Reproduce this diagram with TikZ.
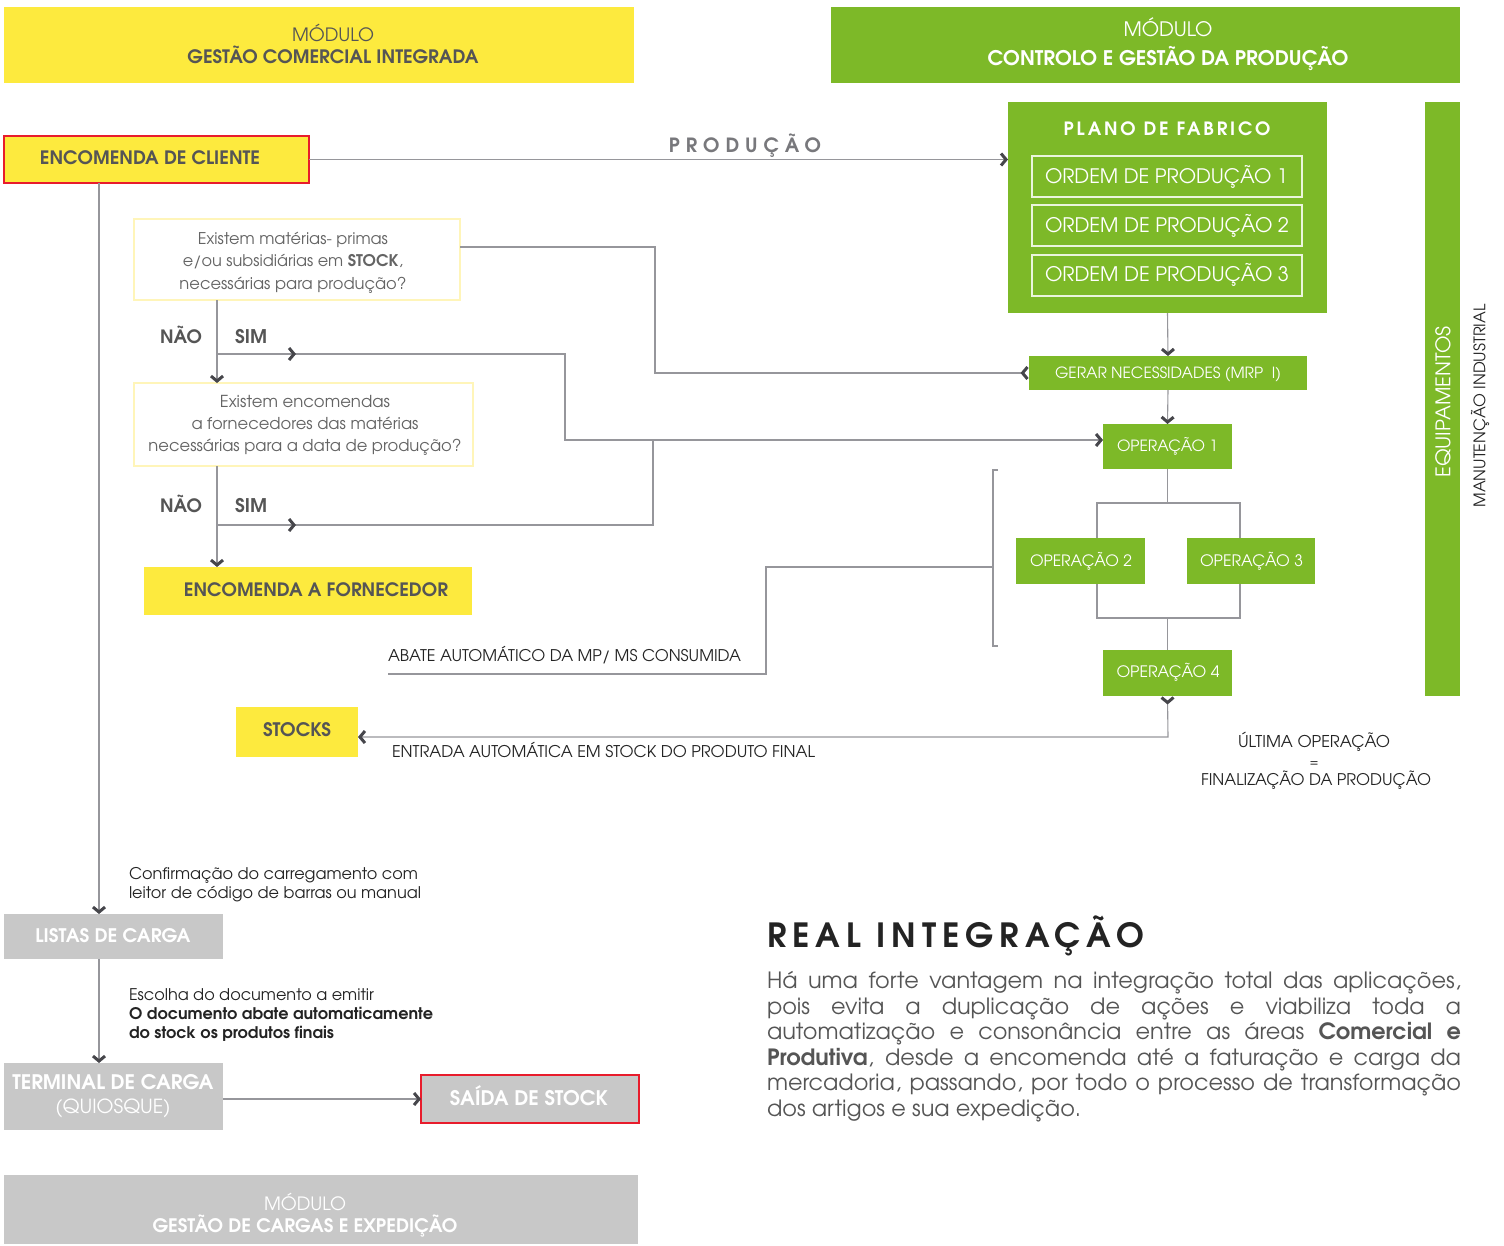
\documentclass[tikz,border=0pt]{standalone}
\usepackage{fontspec}
\setmainfont{TeX Gyre Adventor}
\usepackage{graphicx}
\usetikzlibrary{arrows.meta,decorations.markings}
\definecolor{myyellow}{RGB}{253,234,62}
\definecolor{mygreen}{RGB}{125,185,40}
\definecolor{mygrey}{RGB}{200,200,200}
\definecolor{myred}{RGB}{232,28,44}
\definecolor{txt}{RGB}{85,85,85}
\definecolor{qtxt}{RGB}{100,100,100}
\definecolor{dark}{RGB}{35,35,35}
\definecolor{linec}{RGB}{150,150,155}
\definecolor{tipc}{RGB}{70,70,75}
\definecolor{qborder}{RGB}{255,245,185}
\definecolor{ordc}{RGB}{235,245,220}
\newcommand\fw[2]{\resizebox{#1}{!}{#2}}
\tikzset{
  chev/.tip={Straight Barb[length=5pt, width=12pt, line width=3pt, color=tipc]},
  chevr/.tip={Straight Barb[reversed, length=5pt, width=12pt, line width=3pt, color=tipc]},
}
\begin{document}
\begin{tikzpicture}[x=1pt,y=-1pt,
  box/.style={anchor=north west, inner sep=0pt, outer sep=0pt},
  ybox/.style={box, fill=myyellow},
  gbox/.style={box, fill=mygreen},
  grbox/.style={box, fill=mygrey},
  redframe/.style={draw=myred, line width=1.3pt},
  ordbox/.style={box, draw=ordc, line width=1.5pt},
  qbox/.style={box, draw=qborder, line width=2.5pt, fill=white},
  lbl/.style={inner sep=0pt, outer sep=0pt, anchor=base},
  lblw/.style={lbl, anchor=base west},
  wire/.style={draw=linec, line width=1.1pt},
  conn/.style={wire, -chev},
  midarrow/.style={postaction={decorate, decoration={markings, mark=at position 79pt with {\arrow{chev}}}}},
]
\useasboundingbox (0,0) rectangle (1504,1245);

% ---------- module headers ----------
\node[ybox, minimum width=630pt, minimum height=76pt] (hdrA) at (4,7) {};
\node[lbl, text=txt] (hdrAa) at (333,41) {\fw{82pt}{MÓDULO}};
\node[lbl, text=txt] (hdrAb) at (333,63) {\fw{291pt}{\bfseries GESTÃO COMERCIAL INTEGRADA}};

\node[gbox, minimum width=629pt, minimum height=76pt] (hdrB) at (831,7) {};
\node[lbl, text=white] (hdrBa) at (1168,36) {\fw{89pt}{MÓDULO}};
\node[lbl, text=white] (hdrBb) at (1168,65) {\fw{361pt}{\bfseries CONTROLO E GESTÃO DA PRODUÇÃO}};

\node[grbox, minimum width=634pt, minimum height=69pt] (hdrC) at (4,1175) {};
\node[lbl, text=white] (hdrCa) at (305,1210) {\fw{82pt}{MÓDULO}};
\node[lbl, text=white] (hdrCb) at (305,1232) {\fw{305pt}{\bfseries GESTÃO DE CARGAS E EXPEDIÇÃO}};

% ---------- commercial flow ----------
\node[ybox, redframe, minimum width=305pt, minimum height=47pt] (encC) at (4,136) {};
\node[lbl, text=txt] (encCt) at (150,164) {\fw{220pt}{\bfseries ENCOMENDA DE CLIENTE}};

\node[qbox, minimum width=326pt, minimum height=81pt] (q1) at (134,219) {};
\node[lbl, text=qtxt] (q1a) at (293,244) {\fw{190pt}{Existem matérias- primas}};
\node[lbl, text=qtxt] (q1b) at (293,266) {\fw{220pt}{e/ou subsidiárias em \textbf{STOCK},}};
\node[lbl, text=qtxt] (q1c) at (293,289) {\fw{227pt}{necessárias para produção?}};

\node[lbl, text=txt] (nao1) at (181,343) {\fw{42pt}{\bfseries NÃO}};
\node[lbl, text=txt] (sim1) at (251,343) {\fw{32pt}{\bfseries SIM}};

\node[qbox, minimum width=339pt, minimum height=83pt] (q2) at (134,383) {};
\node[lbl, text=qtxt] (q2a) at (305,407) {\fw{170pt}{Existem encomendas}};
\node[lbl, text=qtxt] (q2b) at (305,429) {\fw{227pt}{a fornecedores das matérias}};
\node[lbl, text=qtxt] (q2c) at (305,451) {\fw{313pt}{necessárias para a data de produção?}};

\node[lbl, text=txt] (nao2) at (181,512) {\fw{42pt}{\bfseries NÃO}};
\node[lbl, text=txt] (sim2) at (251,512) {\fw{32pt}{\bfseries SIM}};

\node[ybox, minimum width=328pt, minimum height=48pt] (encF) at (144,567) {};
\node[lbl, text=txt] (encFt) at (316,596) {\fw{264pt}{\bfseries ENCOMENDA A FORNECEDOR}};

\node[ybox, minimum width=122pt, minimum height=50pt] (stocks) at (236,707) {};
\node[lbl, text=txt] (stockst) at (297,736) {\fw{68pt}{\bfseries STOCKS}};

\node[lblw, text=dark] (abate) at (388,661) {\fw{353pt}{ABATE AUTOMÁTICO DA MP/ MS CONSUMIDA}};
\node[lblw, text=dark] (entrada) at (392,757) {\fw{423pt}{ENTRADA AUTOMÁTICA EM STOCK DO PRODUTO FINAL}};

% ---------- production ----------
\node[lbl, text=linec!80!black] (prodlbl) at (745,152) {\fw{152pt}{\bfseries\addfontfeatures{LetterSpace=30}PRODUÇÃO}};

\node[gbox, minimum width=319pt, minimum height=211pt] (plano) at (1008,102) {};
\node[lbl, text=white] (planot) at (1167,135) {\fw{207pt}{\bfseries\addfontfeatures{LetterSpace=15}PLANO DE FABRICO}};
\node[ordbox, minimum width=270pt, minimum height=41pt] (ord1) at (1032,156) {};
\node[ordbox, minimum width=270pt, minimum height=41pt] (ord2) at (1032,205) {};
\node[ordbox, minimum width=270pt, minimum height=41pt] (ord3) at (1032,255) {};
\node[lblw, text=white] (ord1t) at (1045,183) {\fw{243pt}{ORDEM DE PRODUÇÃO 1}};
\node[lblw, text=white] (ord2t) at (1045,232) {\fw{244pt}{ORDEM DE PRODUÇÃO 2}};
\node[lblw, text=white] (ord3t) at (1045,281) {\fw{244pt}{ORDEM DE PRODUÇÃO 3}};

\node[gbox, minimum width=278pt, minimum height=34pt] (gerar) at (1029,356) {};
\node[lbl, text=white] (gerart) at (1168,378) {\fw{226pt}{GERAR NECESSIDADES (MRP\ \ I)}};

\node[gbox, minimum width=129pt, minimum height=45pt] (op1) at (1103,424) {};
\node[lbl, text=white] (op1t) at (1167.5,451) {\fw{101pt}{OPERAÇÃO 1}};
\node[gbox, minimum width=129pt, minimum height=46pt] (op2) at (1016,538) {};
\node[lbl, text=white] (op2t) at (1081,566) {\fw{102pt}{OPERAÇÃO 2}};
\node[gbox, minimum width=128pt, minimum height=46pt] (op3) at (1187,538) {};
\node[lbl, text=white] (op3t) at (1251.5,566) {\fw{103pt}{OPERAÇÃO 3}};
\node[gbox, minimum width=129pt, minimum height=46pt] (op4) at (1103,650) {};
\node[lbl, text=white] (op4t) at (1168,677) {\fw{103pt}{OPERAÇÃO 4}};

\node[gbox, minimum width=35pt, minimum height=594pt] (equip) at (1425,102) {};
\node[rotate=90, inner sep=0pt, text=white] (equipt) at (1443,402) {\fw{151pt}{EQUIPAMENTOS}};
\node[rotate=90, inner sep=0pt, text=dark] (manut) at (1480,406) {\fw{203pt}{MANUTENÇÃO INDUSTRIAL}};

\node[lbl, text=dark] (ult1) at (1314,747) {\fw{152pt}{ÚLTIMA OPERAÇÃO}};
\node[lbl, text=dark] (ult2) at (1314,766) {\fw{9pt}{=}};
\node[lbl, text=dark] (ult3) at (1316,785) {\fw{230pt}{FINALIZAÇÃO DA PRODUÇÃO}};

% ---------- expedition ----------
\node[lblw, text=dark] (conf1) at (129,879) {\fw{289pt}{Confirmação do carregamento com}};
\node[lblw, text=dark] (conf2) at (129,898) {\fw{292pt}{leitor de código de barras ou manual}};

\node[grbox, minimum width=219pt, minimum height=45pt] (listas) at (4,914) {};
\node[lbl, text=white] (listast) at (113,942) {\fw{155pt}{\bfseries LISTAS DE CARGA}};

\node[lblw, text=dark] (esc1) at (129,1000) {\fw{245pt}{Escolha do documento a emitir}};
\node[lblw, text=dark] (esc2) at (129,1019) {\fw{304pt}{\bfseries O documento abate automaticamente}};
\node[lblw, text=dark] (esc3) at (129,1038) {\fw{205pt}{\bfseries do stock os produtos finais}};

\node[grbox, minimum width=219pt, minimum height=67pt] (term) at (4,1063) {};
\node[lbl, text=white] (termt1) at (113,1089) {\fw{201pt}{\bfseries TERMINAL DE CARGA}};
\node[lbl, text=white] (termt2) at (113,1113) {\fw{115pt}{(QUIOSQUE)}};

\node[grbox, redframe, minimum width=218pt, minimum height=48pt] (saida) at (421,1075) {};
\node[lbl, text=white] (saidat) at (529,1105) {\fw{158pt}{\bfseries SAÍDA DE STOCK}};

% ---------- text block ----------
\node[lblw, text=dark] (realt) at (767,947) {\fw{377pt}{\bfseries\addfontfeatures{LetterSpace=18}REAL INTEGRAÇÃO}};
\begin{scope}[every node/.style={lblw, text=txt, font=\fontsize{22.4}{26}\selectfont}]
\node (p1) at (767,988) {\makebox[694pt][s]{Há uma forte vantagem na integração total das aplicações,}};
\node (p2) at (767,1014) {\makebox[694pt][s]{pois evita a duplicação de ações e viabiliza toda a}};
\node (p3) at (767,1039) {\makebox[694pt][s]{automatização e consonância entre as áreas \textbf{Comercial e}}};
\node (p4) at (767,1065) {\makebox[694pt][s]{\textbf{Produtiva}, desde a encomenda até a faturação e carga da}};
\node (p5) at (767,1090) {\makebox[694pt][s]{mercadoria, passando, por todo o processo de transformação}};
\node (p6) at (767,1116) {dos artigos e sua expedição.};
\end{scope}

% ---------- coordinates ----------
\coordinate (vx) at (217,0);
\coordinate (lx) at (99,0);
\coordinate (g1) at (655,247);
\coordinate (b1) at (217,354);
\coordinate (b1e) at (565,354);
\coordinate (c440) at (565,440);
\coordinate (b2) at (217,525);
\coordinate (b2e) at (653,525);
\coordinate (jL) at (1097,503);
\coordinate (jR) at (1240,503);
\coordinate (kL) at (1097,618);
\coordinate (kR) at (1240,618);
\coordinate (stk) at (1168,737);
\coordinate (brT) at (993,470);
\coordinate (brB) at (993,646);
\coordinate (brM) at (993,567);
\coordinate (ab1) at (766,567);
\coordinate (ab2) at (766,674);
\coordinate (ab3) at (388,674);

% ---------- connectors ----------
\draw[conn] (encC.east) -- (encC.east -| plano.west);
\draw[conn] (plano.south) -- (gerar.north);
\draw[conn] (gerar.south) -- (op1.north);
\draw[wire, arrows={chevr-}] (gerar.west) -- (gerar.west -| g1) -- (g1) -- (g1 -| q1.east);
\draw[conn] (q1.south -| vx) -- (q2.north -| vx);
\draw[conn, midarrow] (b1) -- (b1e) -- (c440) -- (c440 -| op1.west);
\draw[conn] (q2.south -| vx) -- (encF.north -| vx);
\draw[wire, midarrow] (b2) -- (b2e) -- (b2e |- c440);
\draw[wire] (op1.south) |- (jL) -- (jL |- op2.north);
\draw[wire] (op1.south) |- (jR) -- (jR |- op3.north);
\draw[wire] (kL |- op2.south) -- (kL) -| (op4.north);
\draw[wire] (kR |- op3.south) -- (kR) -| (op4.north);
\draw[wire, arrows={chevr-chev}] (op4.south) -- (stk) -- (stk -| stocks.east);
\draw[wire] ([xshift=5pt]brT) -- (brT) -- (brB) -- ([xshift=5pt]brB);
\draw[wire] (brM) -- (ab1) -- (ab2) -- (ab3);
\draw[conn] (encC.south -| lx) -- (listas.north -| lx);
\draw[conn] (listas.south -| lx) -- (term.north -| lx);
\draw[conn] (saida.west -| term.east) -- (saida.west);
\end{tikzpicture}
\end{document}
